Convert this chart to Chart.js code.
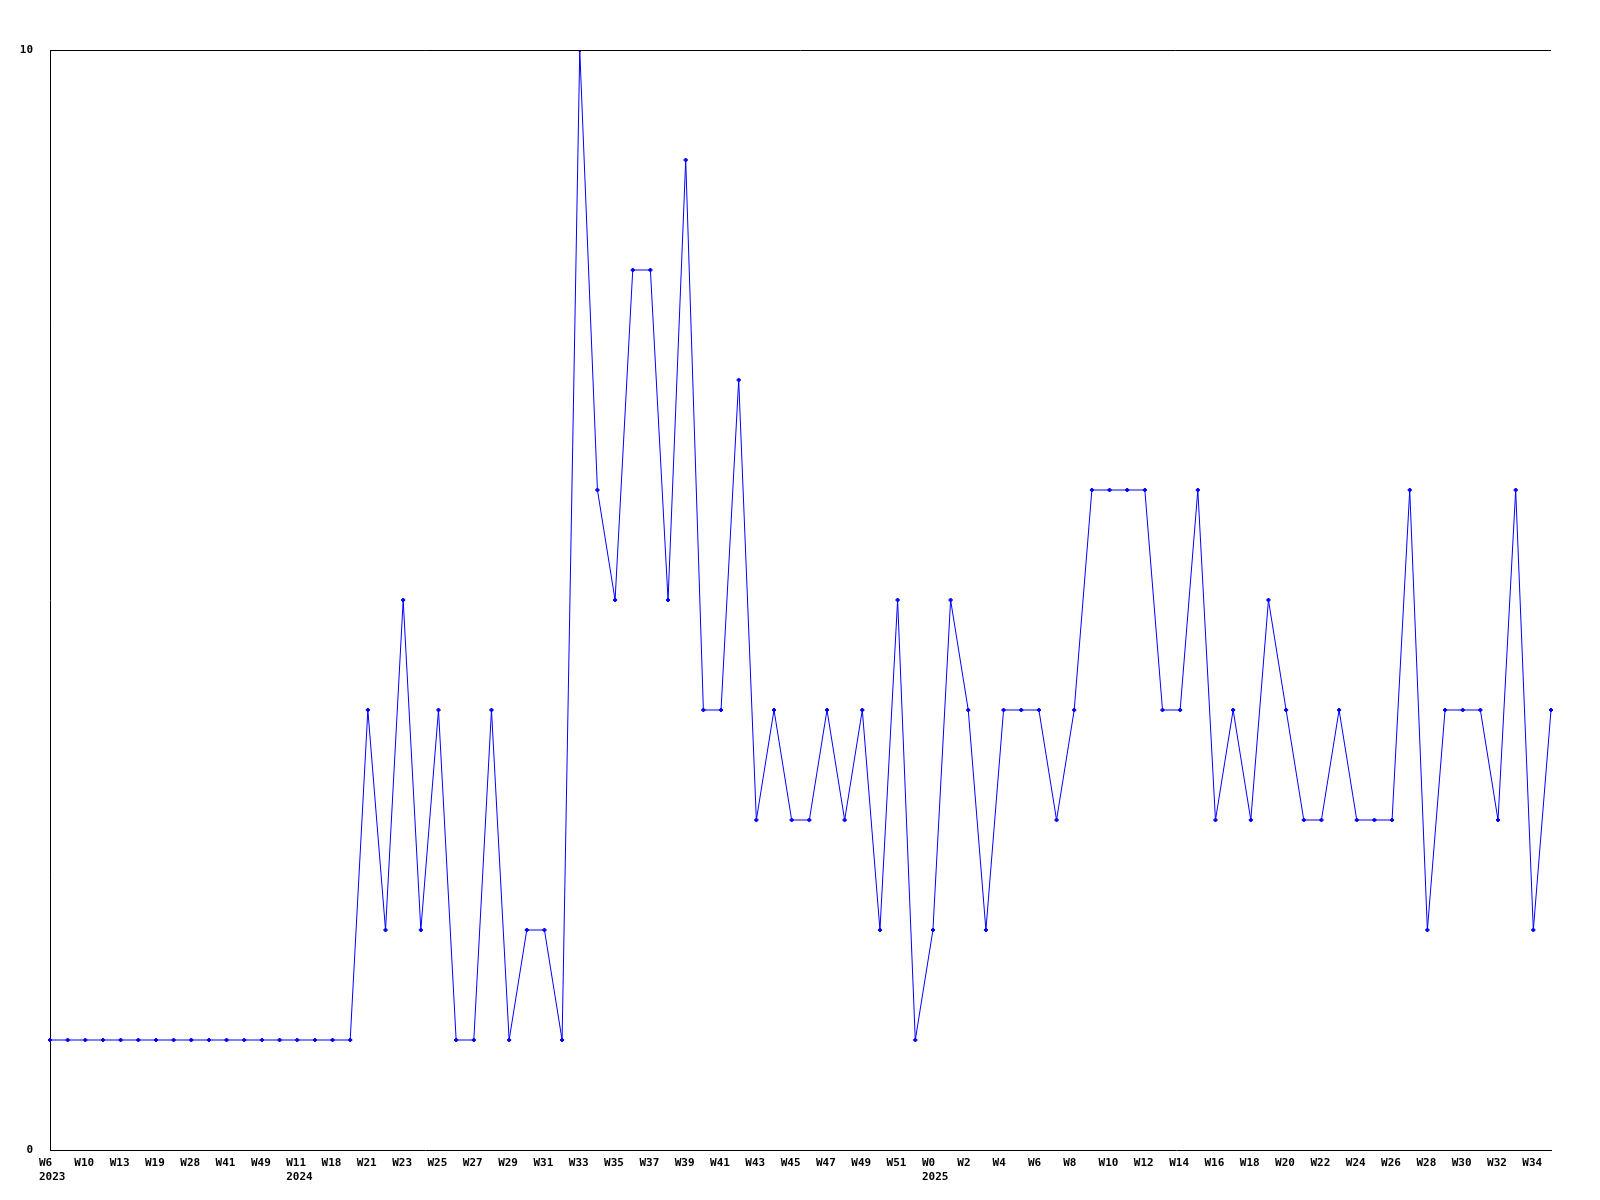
<!DOCTYPE html>
<html>
<head>
<meta charset="utf-8">
<script src="https://cdn.jsdelivr.net/npm/chart.js@4/dist/chart.umd.min.js"></script>
<style>
  html, body { margin: 0; padding: 0; background: #fff; }
  #wrap { width: 1600px; height: 1200px; }
</style>
</head>
<body>
<div id="wrap"><canvas id="weekChart" width="1600" height="1200"></canvas></div>
<script>
// week labels, one per point (only every second one is shown on the axis)
const weeks = [
  'W6', 'W8', 'W10', 'W12', 'W13', 'W16', 'W19', 'W23', 'W28', 'W35',
  'W41', 'W45', 'W49', 'W52', 'W11', 'W15', 'W18', 'W20', 'W21', 'W22',
  'W23', 'W24', 'W25', 'W26', 'W27', 'W28', 'W29', 'W30', 'W31', 'W32',
  'W33', 'W34', 'W35', 'W36', 'W37', 'W38', 'W39', 'W40', 'W41', 'W42',
  'W43', 'W44', 'W45', 'W46', 'W47', 'W48', 'W49', 'W50', 'W51', 'W52',
  'W0', 'W1', 'W2', 'W3', 'W4', 'W5', 'W6', 'W7', 'W8', 'W9',
  'W10', 'W11', 'W12', 'W13', 'W14', 'W15', 'W16', 'W17', 'W18', 'W19',
  'W20', 'W21', 'W22', 'W23', 'W24', 'W25', 'W26', 'W27', 'W28', 'W29',
  'W30', 'W31', 'W32', 'W33', 'W34', 'W35'
];

// year shown under the first labelled week of each year
const yearMarks = { 0: '2023', 14: '2024', 50: '2025' };

const counts = [
  1, 1, 1, 1, 1, 1, 1, 1, 1, 1,
  1, 1, 1, 1, 1, 1, 1, 1, 4, 2,
  5, 2, 4, 1, 1, 4, 1, 2, 2, 1,
  10, 6, 5, 8, 8, 5, 9, 4, 4, 7,
  3, 4, 3, 3, 4, 3, 4, 2, 5, 1,
  2, 5, 4, 2, 4, 4, 4, 3, 4, 6,
  6, 6, 6, 4, 4, 6, 3, 4, 3, 5,
  4, 3, 3, 4, 3, 3, 3, 6, 2, 4,
  4, 4, 3, 6, 2, 4
];

const yTicks = [0, 10];

const monoFont = { family: '"DejaVu Sans Mono", "Liberation Mono", monospace', size: 11, weight: 'bold' };

// top frame line of the plot area
const topLine = {
  id: 'topLine',
  afterDraw(chart) {
    const { ctx, chartArea } = chart;
    ctx.save();
    ctx.strokeStyle = '#000';
    ctx.lineWidth = 1;
    ctx.beginPath();
    ctx.moveTo(chartArea.left, chartArea.top + 0.5);
    ctx.lineTo(chartArea.right, chartArea.top + 0.5);
    ctx.stroke();
    ctx.restore();
  }
};

const ctx = document.getElementById('weekChart').getContext('2d');

new Chart(ctx, {
  type: 'line',
  data: {
    labels: weeks,
    datasets: [{
      data: counts,
      borderColor: '#0000ff',
      backgroundColor: '#0000ff',
      borderWidth: 1,
      pointStyle: 'rectRot',
      pointRadius: 2,
      pointBorderWidth: 1,
      tension: 0,
      fill: false
    }]
  },
  options: {
    responsive: false,
    animation: false,
    layout: { padding: { top: 50, right: 49, left: 0, bottom: 0 } },
    plugins: {
      legend: { display: false },
      tooltip: { enabled: false }
    },
    scales: {
      x: {
        offset: false,
        grid: { display: false, drawTicks: false },
        border: { display: true, color: '#000', width: 1 },
        afterFit: function (scale) { scale.height = 50; },
        ticks: {
          autoSkip: false,
          maxRotation: 0,
          minRotation: 0,
          align: 'start',
          labelOffset: -11,
          padding: 7,
          color: '#000',
          font: monoFont,
          callback: function (value, index) {
            if (index % 2 !== 0) return '';
            const w = weeks[index];
            return yearMarks[index] ? [w, yearMarks[index]] : w;
          }
        }
      },
      y: {
        min: 0,
        max: 10,
        grid: { display: false, drawTicks: false },
        border: { display: true, color: '#000', width: 1 },
        afterFit: function (scale) { scale.width = 50; },
        afterBuildTicks: function (scale) {
          scale.ticks = yTicks.map(v => ({ value: v }));
        },
        ticks: {
          padding: 17,
          color: '#000',
          font: monoFont
        }
      }
    }
  },
  plugins: [topLine]
});
</script>
</body>
</html>
